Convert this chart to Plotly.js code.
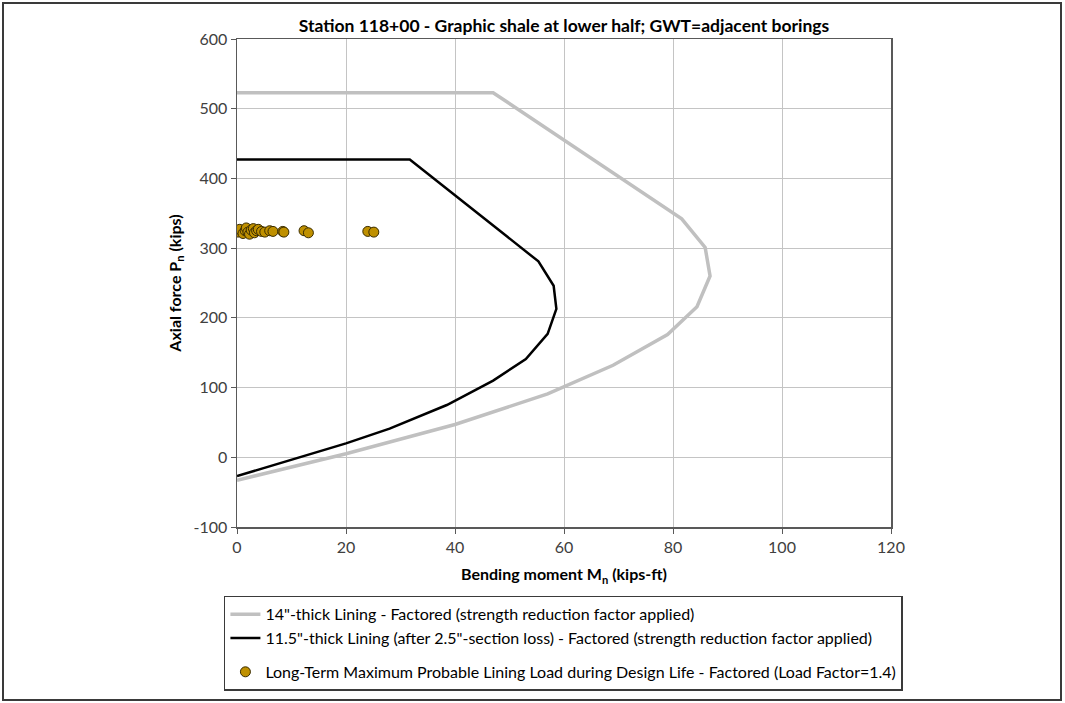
<!DOCTYPE html>
<html>
<head>
<meta charset="utf-8">
<script src="https://cdn.plot.ly/plotly-3.0.1.min.js"></script>
<style>
  html, body { margin: 0; padding: 0; background: #fff; }
  #wrap { position: relative; width: 1065px; height: 703px; }
  #chart { position: absolute; left: 0; top: 0; width: 1065px; height: 703px; }
  #frame { position: absolute; left: 2px; top: 2px; width: 1056px; height: 695px;
           border: 2px solid #3a3a3a; pointer-events: none; }
</style>
</head>
<body>
<div id="wrap">
  <div id="chart"></div>
  <div id="frame"></div>
</div>
<script>
// ---- Data ----
var chartTitle = "Station 118+00 - Graphic shale at lower half; GWT=adjacent borings";

// 14"-thick lining interaction curve (M in kips-ft, P in kips)
var lining14M = [0, 20, 40, 57, 69, 79, 84.4, 86.8, 85.9, 81.6, 47, 0];
var lining14P = [-33, 5, 47, 91, 132, 176, 216, 260, 301, 342, 523, 523];

// 11.5"-thick lining interaction curve
var lining115M = [0, 13, 20, 28, 38.5, 47, 53, 57, 58.6, 58.1, 55.3, 49.5, 31.7, 0];
var lining115P = [-27, 3, 20, 41, 75, 110, 141, 177, 213, 246, 281, 317, 427, 427];

// Long-term factored loads
var loadM = [0.2, 0.5, 1.1, 1.5, 1.7, 2.0, 2.3, 2.6, 3.0, 3.2, 3.6, 3.9, 4.5, 5.1, 6.0, 6.6, 8.4, 8.6, 12.3, 13.1, 24.0, 25.1];
var loadP = [323, 327, 321, 325, 329, 323, 320, 326, 328, 322, 325, 327, 324, 323, 325, 324, 324, 323, 325, 322, 324, 323];

var legendNames = [
  '14"-thick Lining - Factored (strength reduction factor applied)',
  '11.5"-thick Lining (after 2.5"-section loss) - Factored (strength reduction factor applied)',
  'Long-Term Maximum Probable Lining Load during Design Life - Factored (Load Factor=1.4)'
];

var xTickVals = [0, 20, 40, 60, 80, 100, 120];
var yTickVals = [-100, 0, 100, 200, 300, 400, 500, 600];

// ---- Traces ----
var traces = [
  {
    x: lining14M, y: lining14P, type: 'scatter', mode: 'lines',
    name: legendNames[0], legendgroup: 'a',
    line: { color: '#c0c0c0', width: 3.5 }
  },
  {
    x: lining115M, y: lining115P, type: 'scatter', mode: 'lines',
    name: legendNames[1], legendgroup: 'a',
    line: { color: '#000000', width: 2.5 }
  },
  {
    x: loadM, y: loadP, type: 'scatter', mode: 'markers',
    name: legendNames[2], legendgroup: 'b',
    marker: { color: '#bf9000', size: 10, line: { color: '#3a2c00', width: 1 } }
  }
];

var fontFam = 'Lato, "Open Sans", sans-serif';

var layout = {
  width: 1065, height: 703,
  margin: { l: 237, r: 174, t: 39, b: 174 },
  paper_bgcolor: '#ffffff', plot_bgcolor: '#ffffff',
  font: { family: fontFam, size: 16, color: '#404040' },
  title: {
    text: '<b>' + chartTitle + '</b>',
    font: { family: fontFam, size: 17.5, color: '#000000' },
    x: 0.5, xref: 'paper', xanchor: 'center',
    y: 1 - 26 / 703, yref: 'container', yanchor: 'middle'
  },
  xaxis: {
    range: [0, 120], tickvals: xTickVals, ticktext: xTickVals.map(String),
    showgrid: true, gridcolor: '#c4c4c4', gridwidth: 1,
    zeroline: false, showline: true, linecolor: '#595959', linewidth: 1.5, mirror: true,
    ticks: 'outside', ticklen: 5, tickcolor: '#595959',
    tickfont: { family: fontFam, size: 16, color: '#404040' },
    title: { text: '<b>Bending moment M<sub>n</sub> (kips-ft)</b>',
             font: { family: fontFam, size: 16, color: '#000000' }, standoff: 14 }
  },
  yaxis: {
    range: [-100, 600], tickvals: yTickVals, ticktext: yTickVals.map(String),
    showgrid: true, gridcolor: '#c4c4c4', gridwidth: 1,
    zeroline: false, showline: true, linecolor: '#595959', linewidth: 1.5, mirror: true,
    ticks: 'outside', ticklen: 5, tickcolor: '#595959',
    tickfont: { family: fontFam, size: 16, color: '#404040' },
    title: { text: '<b>Axial force P<sub>n</sub> (kips)</b>',
             font: { family: fontFam, size: 16, color: '#000000' }, standoff: 8 }
  },
  showlegend: true,
  legend: {
    x: -0.02, xanchor: 'left', y: -0.141, yanchor: 'top',
    xref: 'paper', yref: 'paper',
    bgcolor: '#ffffff', bordercolor: '#3a3a3a', borderwidth: 1.5,
    font: { family: fontFam, size: 16, color: '#000000' },
    traceorder: 'grouped', tracegroupgap: 10, itemwidth: 30
  }
};

Plotly.newPlot('chart', traces, layout, { displayModeBar: false, staticPlot: true });
</script>
</body>
</html>
